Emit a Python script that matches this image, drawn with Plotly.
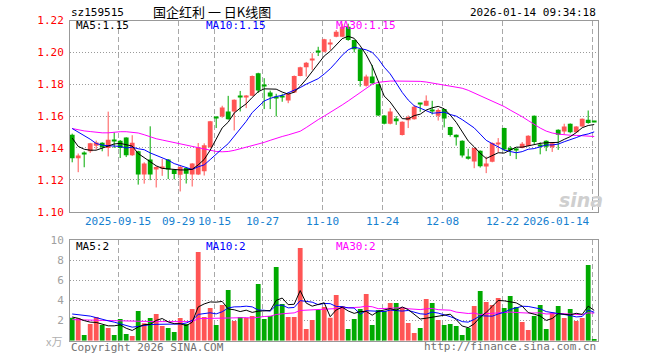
import plotly.graph_objects as go

dates = ["2025-09-03","2025-09-04","2025-09-05","2025-09-08","2025-09-09","2025-09-10","2025-09-11","2025-09-12",
         "2025-09-15","2025-09-16","2025-09-17","2025-09-18","2025-09-19","2025-09-22","2025-09-23","2025-09-24",
         "2025-09-25","2025-09-26","2025-09-29","2025-09-30","2025-10-09","2025-10-10","2025-10-13","2025-10-14",
         "2025-10-15","2025-10-16","2025-10-17","2025-10-20","2025-10-21","2025-10-22","2025-10-23","2025-10-24",
         "2025-10-27","2025-10-28","2025-10-29","2025-10-30","2025-10-31","2025-11-03","2025-11-04","2025-11-05",
         "2025-11-06","2025-11-07","2025-11-10","2025-11-11","2025-11-12","2025-11-13","2025-11-14","2025-11-17",
         "2025-11-18","2025-11-19","2025-11-20","2025-11-21","2025-11-24","2025-11-25","2025-11-26","2025-11-27",
         "2025-11-28","2025-12-01","2025-12-02","2025-12-03","2025-12-04","2025-12-05","2025-12-08","2025-12-09",
         "2025-12-10","2025-12-11","2025-12-12","2025-12-15","2025-12-16","2025-12-17","2025-12-18","2025-12-19",
         "2025-12-22","2025-12-23","2025-12-24","2025-12-25","2025-12-26","2025-12-29","2025-12-30","2025-12-31",
         "2026-01-05","2026-01-06","2026-01-07","2026-01-08","2026-01-09","2026-01-12","2026-01-13","2026-01-14"]

opens = [1.1483,1.1335,1.1367,1.1379,1.1414,1.1433,1.1400,1.1452,1.1446,1.1465,
         1.1354,1.1380,1.1233,1.1327,1.1270,1.1278,1.1327,1.1265,1.1232,1.1275,
         1.1233,1.1233,1.1254,1.1404,1.1594,1.1598,1.1629,1.1629,1.1727,1.1722,
         1.1727,1.1869,1.1795,1.1748,1.1720,1.1723,1.1698,1.1748,1.1852,1.1906,
         1.1956,1.2006,1.2004,1.2052,1.2098,1.2098,1.2160,1.2077,1.2019,1.1790,
         1.1848,1.1800,1.1604,1.1552,1.1585,1.1481,1.1574,1.1581,1.1681,1.1665,
         1.1638,1.1602,1.1644,1.1531,1.1483,1.1446,1.1346,1.1315,1.1383,1.1284,
         1.1313,1.1429,1.1525,1.1400,1.1390,1.1400,1.1412,1.1602,1.1418,1.1446,
         1.1404,1.1515,1.1504,1.1552,1.1498,1.1535,1.1577,1.1567]
highs = [1.1490,1.1365,1.1379,1.1432,1.1446,1.1436,1.1628,1.1498,1.1450,1.1467,
         1.1480,1.1382,1.1310,1.1536,1.1285,1.1331,1.1330,1.1268,1.1290,1.1278,
         1.1305,1.1431,1.1429,1.1570,1.1598,1.1665,1.1727,1.1705,1.1758,1.1732,
         1.1855,1.1872,1.1838,1.1760,1.1740,1.1740,1.1742,1.1855,1.1910,1.1940,
         1.1994,1.2035,1.2085,1.2083,1.2140,1.2180,1.2180,1.2080,1.2022,1.1860,
         1.1921,1.1802,1.1606,1.1650,1.1600,1.1567,1.1604,1.1669,1.1683,1.1730,
         1.1696,1.1648,1.1646,1.1533,1.1485,1.1448,1.1395,1.1400,1.1385,1.1346,
         1.1435,1.1462,1.1527,1.1412,1.1400,1.1437,1.1480,1.1604,1.1435,1.1448,
         1.1432,1.1517,1.1552,1.1554,1.1537,1.1585,1.1635,1.1570]
lows = [1.1310,1.1248,1.1279,1.1369,1.1390,1.1379,1.1347,1.1400,1.1337,1.1343,
        1.1350,1.1170,1.1176,1.1198,1.1152,1.1225,1.1205,1.1203,1.1127,1.1177,
        1.1158,1.1230,1.1227,1.1400,1.1525,1.1590,1.1578,1.1510,1.1629,1.1650,
        1.1725,1.1745,1.1644,1.1644,1.1598,1.1690,1.1681,1.1745,1.1850,1.1848,
        1.1890,1.1977,1.2000,1.2015,1.2095,1.2095,1.2073,1.2000,1.1785,1.1785,
        1.1800,1.1600,1.1548,1.1548,1.1545,1.1478,1.1525,1.1578,1.1627,1.1663,
        1.1610,1.1572,1.1529,1.1471,1.1415,1.1340,1.1327,1.1273,1.1277,1.1242,
        1.1310,1.1373,1.1380,1.1350,1.1330,1.1398,1.1410,1.1425,1.1360,1.1380,
        1.1375,1.1388,1.1487,1.1492,1.1495,1.1533,1.1552,1.1562]
closes = [1.1335,1.1352,1.1365,1.1429,1.1435,1.1404,1.1452,1.1448,1.1400,1.1354,
          1.1433,1.1233,1.1302,1.1233,1.1280,1.1282,1.1265,1.1237,1.1280,1.1238,
          1.1302,1.1404,1.1417,1.1567,1.1590,1.1654,1.1581,1.1702,1.1723,1.1727,
          1.1852,1.1760,1.1792,1.1723,1.1716,1.1720,1.1740,1.1852,1.1906,1.1935,
          1.1960,1.2002,1.2083,1.2056,1.2129,1.2160,1.2077,1.2019,1.1821,1.1848,
          1.1806,1.1604,1.1552,1.1629,1.1568,1.1565,1.1594,1.1658,1.1677,1.1696,
          1.1635,1.1638,1.1585,1.1481,1.1467,1.1352,1.1333,1.1400,1.1285,1.1302,
          1.1431,1.1433,1.1390,1.1385,1.1388,1.1427,1.1477,1.1438,1.1415,1.1408,
          1.1429,1.1483,1.1535,1.1498,1.1535,1.1583,1.1556,1.1565]
volumes = [2.29,2.23,0.56,1.66,2.36,1.56,1.26,0.56,2.16,0.66,
           0.47,2.96,1.73,2.26,2.66,1.46,1.26,0.86,2.26,1.66,
           3.16,8.84,2.36,3.26,1.56,3.55,5.05,1.96,2.36,2.26,
           2.46,5.65,2.16,2.46,7.34,3.65,2.36,2.36,9.24,1.16,
           2.06,3.06,3.36,2.29,4.55,3.46,1.16,2.16,3.16,4.65,
           1.56,3.06,2.96,3.75,3.75,3.26,1.76,0.76,1.26,4.15,
           3.75,2.06,1.56,1.66,1.46,0.56,1.26,3.46,4.95,3.85,
           3.55,4.25,3.26,4.45,3.36,1.86,1.06,2.46,3.55,1.16,
           2.80,3.46,2.26,3.16,1.96,2.26,7.54,0.17]

ma5 = [1.1462,1.1410,1.1392,1.1386,1.1386,1.1398,1.1412,1.1425,1.1429,1.1422,
       1.1412,1.1365,1.1338,1.1312,1.1288,1.1272,1.1268,1.1262,1.1262,1.1262,
       1.1266,1.1294,1.1328,1.1386,1.1456,1.1526,1.1562,1.1619,1.1650,1.1677,
       1.1717,1.1753,1.1771,1.1771,1.1769,1.1751,1.1738,1.1750,1.1787,1.1831,
       1.1879,1.1931,1.1977,1.2007,1.2046,1.2086,1.2101,1.2088,1.2041,1.1985,
       1.1914,1.1820,1.1726,1.1688,1.1632,1.1584,1.1582,1.1603,1.1612,1.1638,
       1.1652,1.1661,1.1646,1.1607,1.1561,1.1505,1.1444,1.1407,1.1367,1.1334,
       1.1350,1.1370,1.1368,1.1388,1.1405,1.1405,1.1413,1.1423,1.1429,1.1433,
       1.1433,1.1435,1.1454,1.1471,1.1496,1.1527,1.1541,1.1547]
ma10 = [1.1522,1.1500,1.1478,1.1455,1.1428,1.1418,1.1414,1.1412,1.1410,1.1400,
        1.1405,1.1395,1.1389,1.1369,1.1354,1.1342,1.1323,1.1302,1.1290,1.1278,
        1.1265,1.1282,1.1294,1.1327,1.1358,1.1395,1.1427,1.1474,1.1518,1.1567,
        1.1622,1.1658,1.1695,1.1711,1.1723,1.1730,1.1746,1.1761,1.1779,1.1800,
        1.1815,1.1835,1.1864,1.1897,1.1938,1.1982,1.2016,1.2033,1.2024,1.2016,
        1.2000,1.1960,1.1907,1.1865,1.1808,1.1749,1.1701,1.1665,1.1650,1.1635,
        1.1618,1.1621,1.1625,1.1610,1.1600,1.1578,1.1552,1.1526,1.1487,1.1448,
        1.1427,1.1407,1.1387,1.1378,1.1370,1.1377,1.1392,1.1396,1.1409,1.1419,
        1.1419,1.1424,1.1439,1.1450,1.1465,1.1480,1.1488,1.1501]
ma30 = [1.1522,1.1513,1.1507,1.1503,1.1497,1.1495,1.1495,1.1500,1.1502,1.1502,
        1.1498,1.1494,1.1483,1.1468,1.1458,1.1450,1.1442,1.1434,1.1425,1.1418,
        1.1412,1.1404,1.1395,1.1388,1.1378,1.1376,1.1378,1.1385,1.1395,1.1405,
        1.1412,1.1422,1.1435,1.1448,1.1462,1.1472,1.1482,1.1492,1.1505,1.1528,
        1.1555,1.1578,1.1600,1.1622,1.1646,1.1670,1.1695,1.1722,1.1750,1.1778,
        1.1800,1.1812,1.1818,1.1820,1.1820,1.1820,1.1820,1.1820,1.1818,1.1814,
        1.1808,1.1800,1.1795,1.1790,1.1785,1.1775,1.1762,1.1745,1.1728,1.1710,
        1.1695,1.1680,1.1660,1.1638,1.1618,1.1596,1.1572,1.1548,1.1525,1.1506,
        1.1494,1.1487,1.1482,1.1480,1.1479,1.1478,1.1477,1.1472]

vma5 = [2.36,2.23,2.00,1.85,1.82,1.67,1.48,1.48,1.58,1.24,
        1.02,1.36,1.60,1.62,2.02,2.21,1.87,1.70,1.70,1.50,
        1.84,3.36,3.66,3.86,3.84,3.91,3.16,3.08,2.90,3.04,
        2.82,2.94,2.98,3.00,4.01,4.25,3.59,3.63,4.99,3.75,
        3.44,3.58,3.78,2.39,3.06,3.34,2.96,2.72,2.90,2.92,
        2.54,2.92,3.08,3.20,3.02,3.36,3.10,2.66,2.16,2.24,
        2.34,2.40,2.56,2.64,2.10,1.46,1.30,1.68,2.34,2.82,
        3.41,4.01,3.97,3.87,3.77,3.44,2.80,2.64,2.46,2.02,
        2.21,2.69,2.65,2.57,2.73,2.62,3.44,3.02]
vma10 = [2.66,2.60,2.53,2.45,2.30,2.12,1.98,1.85,1.70,1.53,
         1.35,1.42,1.54,1.60,1.63,1.62,1.62,1.65,1.66,1.76,
         2.03,2.62,2.68,2.78,2.67,2.88,3.26,3.37,3.38,3.44,
         3.37,3.05,3.03,2.95,3.53,3.54,3.27,3.31,3.99,3.88,
         3.84,3.59,3.71,3.69,3.41,3.39,3.27,3.25,2.64,2.99,
         2.94,2.94,2.90,3.05,2.97,2.95,3.01,2.87,2.68,2.63,
         2.85,2.75,2.61,2.40,2.17,1.90,1.85,2.12,2.49,2.46,
         2.44,2.66,2.83,3.11,3.30,3.43,3.41,3.31,3.17,2.90,
         2.82,2.74,2.64,2.51,2.37,2.41,3.06,2.83]
vma30 = [2.10,2.10,2.08,2.06,2.04,2.02,2.00,1.98,1.96,1.94,
         1.92,1.90,1.90,1.90,1.90,1.90,1.90,1.88,1.88,1.88,
         1.90,2.20,2.22,2.24,2.24,2.26,2.30,2.30,2.32,2.30,
         2.25,2.36,2.41,2.44,2.61,2.68,2.71,2.77,3.01,3.03,
         3.08,3.08,3.14,3.14,3.20,3.27,3.26,3.31,3.34,3.44,
         3.38,3.19,3.21,3.23,3.30,3.29,3.18,3.14,3.10,3.17,
         3.21,3.09,3.07,3.04,2.85,2.75,2.71,2.75,2.60,2.69,
         2.74,2.78,2.78,2.85,2.81,2.76,2.75,2.76,2.78,2.66,
         2.70,2.71,2.69,2.67,2.61,2.58,2.77,2.75]

price_ticks = [1.10, 1.12, 1.14, 1.16, 1.18, 1.20, 1.22]
vol_ticks = [2, 4, 6, 8, 10]
date_labels = ["2025-09-15", "09-29", "10-15", "10-27", "11-10", "11-24", "12-08", "12-22", "2026-01-14"]
date_label_keys = ["2025-09-15", "2025-09-29", "2025-10-15", "2025-10-27", "2025-11-10",
                   "2025-11-24", "2025-12-08", "2025-12-22", "2026-01-14"]

W, H = 660, 360
RED = "#ff5555"
GREEN = "#00aa00"
MONO = "DejaVu Sans Mono"

n = len(dates)
x = list(range(n))
is_up = [c >= o for o, c in zip(opens, closes)]
colors = [RED if u else GREEN for u in is_up]
min_h = 0.0007
body_h = [max(abs(c - o), min_h) for o, c in zip(opens, closes)]
body_base = [(o + c) / 2 - h / 2 for o, c, h in zip(opens, closes, body_h)]

def px(v):
    return v / W

def py(v):
    return 1 - v / H

X0 = -0.367
XR = [X0, X0 + 88]
grid_x = [dates.index(k) - 0.32 for k in date_label_keys]

fig = go.Figure()

# wicks
for up_flag, col in ((True, RED), (False, GREEN)):
    wx, wy = [], []
    for i in range(n):
        if is_up[i] == up_flag:
            wx += [i, i, None]
            wy += [lows[i], highs[i], None]
    fig.add_trace(go.Scatter(x=wx, y=wy, mode="lines", line=dict(color=col, width=1),
                             hoverinfo="skip", showlegend=False, xaxis="x", yaxis="y"))

fig.add_trace(go.Bar(x=x, y=body_h, base=body_base, width=0.8, marker=dict(color=colors, line=dict(width=0)),
                     showlegend=False, xaxis="x", yaxis="y"))

for arr, col in ((ma30, "#ff00ff"), (ma10, "#0000ff"), (ma5, "#000000")):
    fig.add_trace(go.Scatter(x=x, y=arr, mode="lines", line=dict(color=col, width=1),
                             showlegend=False, xaxis="x", yaxis="y"))

fig.add_trace(go.Bar(x=x, y=volumes, width=0.8, marker=dict(color=colors, line=dict(width=0)),
                     showlegend=False, xaxis="x2", yaxis="y2"))
for arr, col in ((vma30, "#ff00ff"), (vma10, "#0000ff"), (vma5, "#000000")):
    fig.add_trace(go.Scatter(x=x, y=arr, mode="lines", line=dict(color=col, width=1),
                             showlegend=False, xaxis="x2", yaxis="y2"))

xdom = [px(70), px(598)]
common_x = dict(domain=xdom, range=XR, showgrid=True, gridcolor="#a8a8a8", griddash="5px,3px", gridwidth=1,
                tickvals=grid_x, showticklabels=False, ticks="", zeroline=False,
                showline=True, mirror=True, linecolor="#999999", linewidth=1, fixedrange=True)

fig.update_layout(
    width=W, height=H, margin=dict(l=0, r=0, t=0, b=0), autosize=False,
    paper_bgcolor="white", plot_bgcolor="white", barmode="overlay",
    font=dict(family=MONO, size=10, color="#000000"),
    xaxis=dict(anchor="y", **common_x),
    xaxis2=dict(anchor="y2", matches="x", **common_x),
    yaxis=dict(domain=[py(211.7), py(20.5)], range=[1.10, 1.22], tickvals=price_ticks,
               ticktext=["%.2f" % v for v in price_ticks], tickfont=dict(family=MONO, size=11, color="#ff0000"),
               showgrid=True, gridcolor="#9a9a9a", griddash="1px,2px", zeroline=False, ticks="",
               showline=True, mirror=True, linecolor="#999999", linewidth=1, automargin=False,
               ticklabelstandoff=3, anchor="x", fixedrange=True),
    yaxis2=dict(domain=[py(340.7), py(240.3)], range=[0, 10], tickvals=vol_ticks,
                ticktext=[str(v) for v in vol_ticks], tickfont=dict(family=MONO, size=11, color="#a0a0a0"),
                showgrid=True, gridcolor="#9a9a9a", griddash="1px,2px", zeroline=False, ticks="",
                showline=True, mirror=True, linecolor="#999999", linewidth=1, automargin=False,
                ticklabelstandoff=3, anchor="x2", fixedrange=True),
)

ann = []
def add_text(t, xx, yy, color="#000", size=10, xanchor="left", family=MONO, **kw):
    ann.append(dict(text=t, x=px(xx), y=py(yy), xref="paper", yref="paper", showarrow=False,
                    xanchor=xanchor, yanchor="middle", font=dict(family=family, size=size, color=color), **kw))

add_text("sz159515", 69, 13, size=11)
add_text("国企红利\u00a0一\u00a0日K线图", 212, 11.5, size=13, xanchor="center", family="Noto Sans CJK SC")
add_text("2026-01-14 09:34:18", 598, 13, size=11, xanchor="right")

add_text("MA5:%.2f" % ma5[-1], 74, 25.5, size=11, color="#000000")
add_text("MA10:%.2f" % ma10[-1], 204, 25.5, size=11, color="#0000ff")
add_text("MA30:%.2f" % ma30[-1], 334, 25.5, size=11, color="#ff00ff")

add_text("MA5:2", 74, 246, size=11, color="#000000")
add_text("MA10:2", 204, 246, size=11, color="#0000ff")
add_text("MA30:2", 334, 246, size=11, color="#ff00ff")

for lab, key in zip(date_labels, date_label_keys):
    gx = dates.index(key) - 0.32
    xp = 70 + (gx - X0) * 6
    if key == date_label_keys[-1]:
        add_text(lab, xp, 221, size=11, color="#1580d0", xanchor="right")
    else:
        add_text(lab, xp, 221, size=11, color="#1580d0", xanchor="center")

add_text("x万", 64, 341, size=11, color="#b0b0b0", xanchor="right", family="Noto Sans CJK SC")
add_text("Copyright 2026 SINA.COM", 69, 347, size=11, color="#707070")
add_text("http://finance.sina.com.cn", 598, 346, size=11, color="#707070", xanchor="right")
add_text("<b><i>sina</i></b>", 581, 200, size=19, color="#cfcfcf", xanchor="center", family="DejaVu Sans")

fig.update_layout(annotations=ann)
fig.write_html("out.html", config={"displayModeBar": False},
               post_script="document.body.style.margin='0';document.body.style.overflow='hidden';")
